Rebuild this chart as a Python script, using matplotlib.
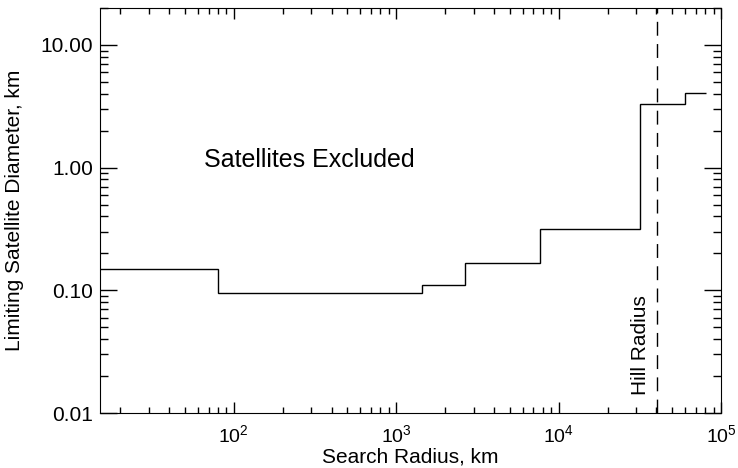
import matplotlib
matplotlib.use("Agg")
import matplotlib.pyplot as plt
from matplotlib.ticker import FuncFormatter, LogLocator

plt.rcParams["font.family"] = ["Liberation Sans", "DejaVu Sans"]
plt.rcParams["mathtext.fontset"] = "custom"
plt.rcParams["mathtext.rm"] = "Liberation Sans"
plt.rcParams["mathtext.it"] = "Liberation Sans"

# Limiting diameter vs search radius (step edges in km)
radius_edges = [15, 80, 1440, 2670, 7710, 31500, 59600, 80700]
diameter_km = [0.150, 0.095, 0.111, 0.168, 0.316, 3.30, 4.09]
hill_radius = 40100

fig = plt.figure(figsize=(7.38, 4.68), dpi=100)
ax = fig.add_axes([0.1355, 0.1175, 0.8415, 0.8655])

ax.stairs(diameter_km, radius_edges, baseline=None, color="black", lw=1)
ax.axvline(hill_radius, color="black", lw=1, linestyle=(0, (10, 6)))

ax.set_xscale("log")
ax.set_yscale("log")
ax.set_xlim(15, 1e5)
ax.set_ylim(0.01, 20)

ax.xaxis.set_major_locator(LogLocator(base=10, numticks=10))
ax.xaxis.set_minor_locator(LogLocator(base=10, subs=range(2, 10), numticks=20))
ax.set_yticks([0.01, 0.1, 1, 10])
ax.yaxis.set_major_formatter(FuncFormatter(lambda v, p: "%.2f" % v))

ax.tick_params(which="both", direction="in", top=True, right=True, width=1)
ax.tick_params(axis="x", which="major", length=8, pad=8, labelsize=14)
ax.tick_params(axis="x", which="minor", length=4)
ax.tick_params(axis="y", which="major", length=12, pad=5, labelsize=15)
ax.tick_params(axis="y", which="minor", length=6)

ax.set_xlabel("Search Radius, km", fontsize=15, labelpad=1)
ax.set_ylabel("Limiting Satellite Diameter, km", fontsize=15, labelpad=12)

ax.text(66, 1.16, "Satellites Excluded", fontsize=18, va="center", ha="left")
ax.text(32100, 0.014, "Hill Radius", fontsize=15, rotation=90, va="bottom", ha="center")

fig.savefig("out.png", dpi=100)
